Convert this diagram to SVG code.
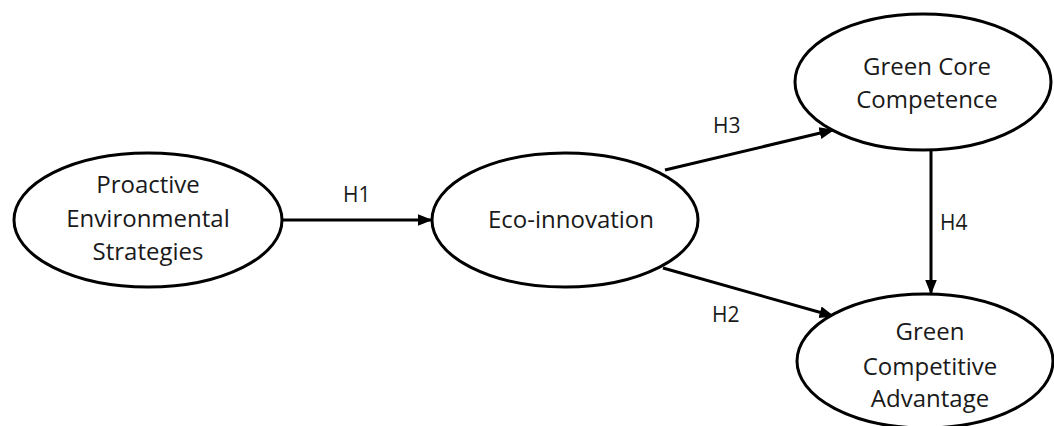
<svg xmlns="http://www.w3.org/2000/svg" width="1054" height="426" viewBox="0 0 1054 426">
<style>
.node ellipse{fill:#fff;stroke:#000;stroke-width:3}
text{font-family:"Open Sans","Liberation Sans",sans-serif;font-size:24px;fill:#1a1a1a;text-anchor:middle}
.lbl{font-size:21px;text-anchor:start}
.edge{stroke:#000;stroke-width:3;fill:none;marker-end:url(#arr)}
</style>
<defs>
<marker id="arr" viewBox="0 0 10 10" refX="9" refY="5" markerWidth="5" markerHeight="5" orient="auto" markerUnits="strokeWidth">
<path d="M0,1 L10,5 L0,9 z" fill="#000"/>
</marker>
</defs>
<rect width="1054" height="426" fill="#fff"/>
<g id="connectors">
<line class="edge" x1="282" y1="220" x2="431" y2="220"/>
<line class="edge" x1="665" y1="170" x2="833" y2="130"/>
<line class="edge" x1="663" y1="268" x2="833" y2="316"/>
<line class="edge" x1="931" y1="150" x2="931" y2="293"/>
<text class="lbl" x="343" y="202">H1</text>
<text class="lbl" x="713" y="133">H3</text>
<text class="lbl" x="712" y="322">H2</text>
<text class="lbl" x="940" y="230">H4</text>
</g>
<g id="pes" class="node">
<ellipse cx="148" cy="220" rx="134" ry="67"/>
<text x="148" y="193">Proactive</text>
<text x="148" y="227">Environmental</text>
<text x="148" y="260">Strategies</text>
</g>
<g id="eco" class="node">
<ellipse cx="565" cy="220" rx="133" ry="67"/>
<text x="571" y="228">Eco-innovation</text>
</g>
<g id="gcc" class="node">
<ellipse cx="923" cy="82" rx="128" ry="68"/>
<text x="927" y="75">Green Core</text>
<text x="927" y="108">Competence</text>
</g>
<g id="gca" class="node">
<ellipse cx="925" cy="361" rx="128" ry="67"/>
<text x="930" y="340">Green</text>
<text x="930" y="375">Competitive</text>
<text x="930" y="407">Advantage</text>
</g>
</svg>
